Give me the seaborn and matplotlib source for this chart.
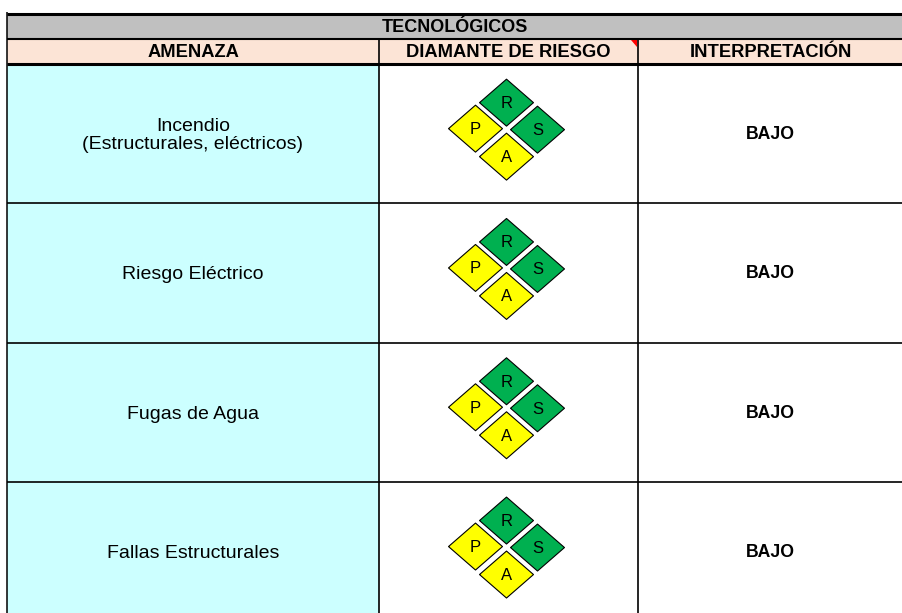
import matplotlib
matplotlib.use("Agg")
import matplotlib.pyplot as plt
from matplotlib.patches import Rectangle, Polygon
import seaborn as sns
import pandas as pd

# ---- data ----
title = "TECNOLÓGICOS"
headers = ["AMENAZA", "DIAMANTE DE RIESGO", "INTERPRETACIÓN"]
amenazas = ["Incendio\n(Estructurales, eléctricos)",
            "Riesgo Eléctrico",
            "Fugas de Agua",
            "Fallas Estructurales"]
interpretacion = ["BAJO", "BAJO", "BAJO", "BAJO"]
letters = ["R", "P", "S", "A"]
# level of each diamond (R, P, S, A) per amenaza
levels = [["Bajo", "Medio", "Bajo", "Medio"],
          ["Bajo", "Medio", "Bajo", "Medio"],
          ["Bajo", "Medio", "Bajo", "Medio"],
          ["Bajo", "Medio", "Bajo", "Medio"]]

level_colors = {"Bajo": "#00B050", "Medio": "#FFFF00"}

sns.set_theme(style="white")
plt.rcParams['font.family'] = ['Liberation Sans', 'DejaVu Sans']
plt.rcParams['text.color'] = 'black'

W, H = 902, 613
col_x = [7, 379, 638, 903]
y_top, y_h1, y_h2 = 13.5, 38.5, 64
row_h = 139.3

fig = plt.figure(figsize=(W / 100, H / 100), dpi=100)
ax = fig.add_axes([0, 0, 1, 1])

# header backgrounds
ax.add_patch(Rectangle((col_x[0], y_top), col_x[-1] - col_x[0], y_h1 - y_top,
                       facecolor="#C0C0C0", edgecolor="none"))
ax.add_patch(Rectangle((col_x[0], y_h1), col_x[-1] - col_x[0], y_h2 - y_h1,
                       facecolor="#FCE4D6", edgecolor="none"))

row_tops = [y_h2 + i * row_h for i in range(len(amenazas))]
for top in row_tops:
    ax.add_patch(Rectangle((col_x[0], top), col_x[1] - col_x[0], row_h,
                           facecolor="#CCFFFF", edgecolor="none"))

# header texts
ax.text((col_x[0] + col_x[-1]) / 2, (y_top + y_h1) / 2 + 1, title,
        ha="center", va="center", fontsize=13, fontweight="bold", color="black")
for j, h in enumerate(headers):
    ax.text((col_x[j] + col_x[j + 1]) / 2, (y_h1 + y_h2) / 2 + 1, h,
            ha="center", va="center", fontsize=13.2, fontweight="bold", color="black")

# comment marker
ax.add_patch(Polygon([(631, y_h1 + 1.5), (col_x[2] - 1, y_h1 + 1.5), (col_x[2] - 1, y_h1 + 8)],
                     closed=True, facecolor="#FF0000", edgecolor="none"))

# body texts
for i, top in enumerate(row_tops):
    cy = top + row_h / 2
    ax.text((col_x[0] + col_x[1]) / 2, cy + 2, amenazas[i], ha="center", va="center",
            fontsize=14, linespacing=1.1, color="black")
    ax.text((col_x[2] + col_x[3]) / 2, cy + 1, interpretacion[i], ha="center", va="center",
            fontsize=12.7, fontweight="bold", color="black")

# diamonds
offsets = {"R": (-2, -31), "P": (-33, -5), "S": (29, -4), "A": (-2, 23)}
cx = (col_x[1] + col_x[2]) / 2
recs = []
for i, top in enumerate(row_tops):
    cy = top + row_h / 2
    for k, letter in enumerate(letters):
        dx, dy = offsets[letter]
        recs.append({"x": cx + dx, "y": cy + dy, "letter": letter, "level": levels[i][k]})
diamonds = pd.DataFrame(recs)

verts = [(-1, 0), (0, 0.87), (1, 0), (0, -0.87), (-1, 0)]
sns.scatterplot(data=diamonds, x="x", y="y", hue="level", palette=level_colors,
                marker=verts, s=1510, edgecolor="black", linewidth=0.8,
                legend=False, ax=ax, zorder=3)
for _, r in diamonds.iterrows():
    ax.text(r["x"], r["y"] + 1, r["letter"], ha="center", va="center",
            fontsize=12, color="black", zorder=4)

# grid lines
ax.hlines(y_top, col_x[0], col_x[-1], color="black", lw=2.2)
ax.hlines(y_h1, col_x[0], col_x[-1], color="black", lw=1.5)
ax.hlines(y_h2, col_x[0], col_x[-1], color="black", lw=2.2)
for top in row_tops[1:]:
    ax.hlines(top, col_x[0], col_x[-1], color="black", lw=1.2)
ax.vlines(col_x[0], y_top - 1.5, H, color="black", lw=1.1)
for x in col_x[1:3]:
    ax.vlines(x, y_h1, H, color="black", lw=1.2)

ax.set_xlim(0, W)
ax.set_ylim(H, 0)
ax.axis("off")

fig.savefig("out.png", dpi=100)
